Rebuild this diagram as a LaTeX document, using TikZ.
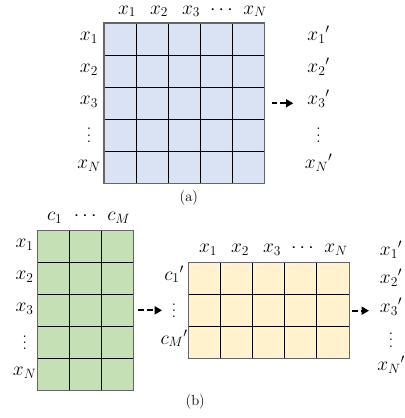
\documentclass[tikz,border=0pt]{standalone}
\usepackage{amsmath}
\usepackage{xcolor}
\usetikzlibrary{arrows.meta, positioning}
\definecolor{cellblue}{HTML}{DAE3F3}
\definecolor{cellgreen}{HTML}{C5E0B4}
\definecolor{cellyellow}{HTML}{FFF2CC}
\newcommand{\vdotsmark}{\raisebox{-5pt}{\vbox{\baselineskip5.5pt\lineskiplimit0pt\hbox{.}\hbox{.}\hbox{.}}}}
\tikzset{
  cellgrid/.style={anchor=north west, inner sep=0pt, draw=none},
  gridline/.style={black, line width=0.7pt},
  gridframe/.style={draw=black!60, line width=1pt},
  lbl/.style={font=\fontsize{17}{20}\selectfont, inner sep=1pt, anchor=base},
  captext/.style={font=\fontsize{13}{15}\selectfont},
  flow/.style={line width=1.8pt, dash pattern=on 5pt off 2.8pt,
    -{Triangle[length=6.5pt,width=7pt]}}
}

\begin{document}
\begin{tikzpicture}
  \useasboundingbox (0,0) rectangle (12.625,-13.06);

  %% (a) N x N grid
  \node[cellgrid, fill=cellblue, minimum width=5cm, minimum height=5cm] (gridA) at (3.25,-0.72) {};
  \foreach \i in {1,...,4} {
    \draw[gridline] ([xshift=\i cm]gridA.north west) -- ([xshift=\i cm]gridA.south west);
    \draw[gridline] ([yshift=-\i cm]gridA.north west) -- ([yshift=-\i cm]gridA.north east);
  }
  \draw[gridframe] (gridA.north west) rectangle (gridA.south east);

  %% Labels of (a)
  \foreach \lab [count=\i] in {x_1,x_2,x_3,\cdots,x_N}
    \node[lbl] (colA\i) at ([xshift=\i cm-0.28cm, yshift=0.28cm]gridA.north west) {$\lab$};
  \foreach \lab [count=\i] in {x_1,x_2,x_3,\vdotsmark,x_N}
    \node[lbl] (rowA\i) at ([xshift=-0.47cm, yshift=-\i cm+0.45cm]gridA.north west) {$\lab$};
  \foreach \lab [count=\i] in {{x_1}',{x_2}',{x_3}',\vdotsmark,{x_N}'}
    \node[lbl] (outA\i) at ([xshift=1.69cm, yshift=-\i cm+0.45cm]gridA.north east) {$\lab$};
  \draw[flow, shorten <=0.22cm, shorten >=0.4cm] (gridA.east) -- (gridA.east -| outA3.west);
  \node[captext] (capA) at (5.9,-6.19) {(a)};

  %% (b) N x M grid
  \node[cellgrid, fill=cellgreen, minimum width=3cm, minimum height=5cm] (gridB) at (1.16,-7.19) {};
  \foreach \i in {1,2}
    \draw[gridline] ([xshift=\i cm]gridB.north west) -- ([xshift=\i cm]gridB.south west);
  \foreach \i in {1,...,4}
    \draw[gridline] ([yshift=-\i cm]gridB.north west) -- ([yshift=-\i cm]gridB.north east);
  \draw[gridframe] (gridB.north west) rectangle (gridB.south east);

  \foreach \lab [count=\i] in {c_1,\cdots,c_M}
    \node[lbl] (colB\i) at ([xshift=\i cm-0.45cm, yshift=0.3cm]gridB.north west) {$\lab$};
  \foreach \lab [count=\i] in {x_1,x_2,x_3,\vdotsmark,x_N}
    \node[lbl] (rowB\i) at ([xshift=-0.39cm, yshift=-\i cm+0.45cm]gridB.north west) {$\lab$};

  %% (b) M x N grid
  \node[cellgrid, fill=cellyellow, minimum width=5cm, minimum height=3cm] (gridC) at (5.9,-8.2) {};
  \foreach \i in {1,...,4}
    \draw[gridline] ([xshift=\i cm]gridC.north west) -- ([xshift=\i cm]gridC.south west);
  \foreach \i in {1,2}
    \draw[gridline] ([yshift=-\i cm]gridC.north west) -- ([yshift=-\i cm]gridC.north east);
  \draw[gridframe] (gridC.north west) rectangle (gridC.south east);

  \foreach \lab [count=\i] in {x_1,x_2,x_3,\cdots,x_N}
    \node[lbl] (colC\i) at ([xshift=\i cm-0.4cm, yshift=0.3cm]gridC.north west) {$\lab$};
  \foreach \lab [count=\i] in {{c_1}',\vdotsmark,{c_M}'}
    \node[lbl] (rowC\i) at ([xshift=-0.46cm, yshift=-\i cm+0.45cm]gridC.north west) {$\lab$};

  %% Outputs of (b)
  \foreach \lab [count=\i] in {{x_1}',{x_2}',{x_3}',\vdotsmark,{x_N}'}
    \node[lbl] (outB\i) at (12.22,{-9.77+(3-\i)*0.9}) {$\lab$};

  \draw[flow, shorten <=0.15cm, shorten >=0.26cm] (gridB.east) -- (gridB.east -| rowC2.west);
  \draw[flow, shorten <=0.08cm, shorten >=0.3cm] (gridC.east) -- (gridC.east -| outB3.west);
  \node[captext] (capB) at (6.1,-12.56) {(b)};
\end{tikzpicture}
\end{document}
